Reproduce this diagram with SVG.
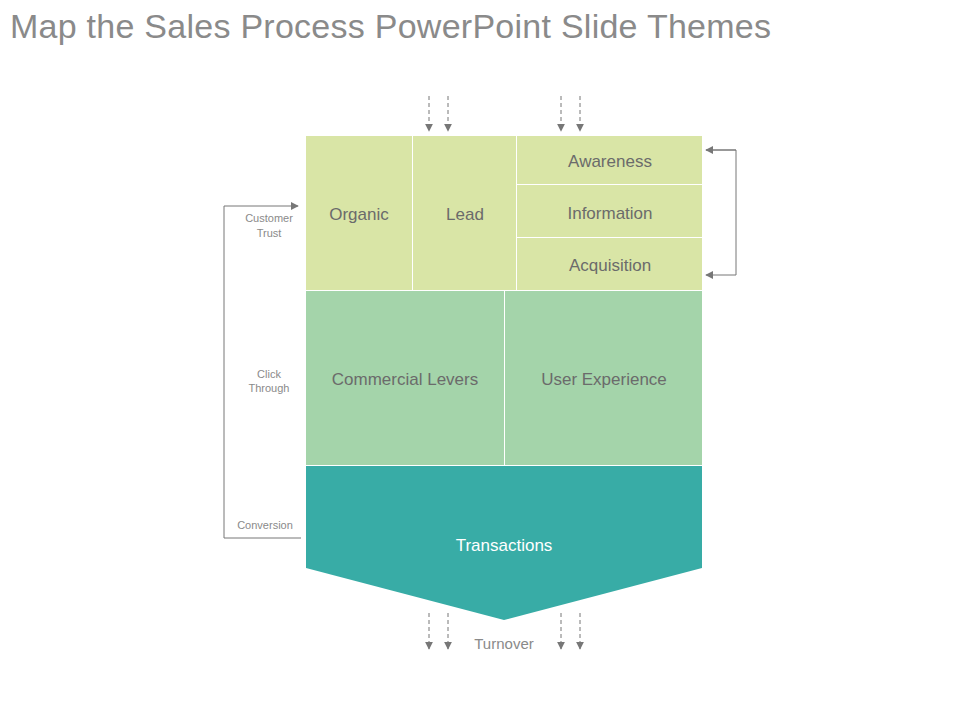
<svg xmlns="http://www.w3.org/2000/svg" width="960" height="720" viewBox="0 0 960 720">
<style>
text{font-family:"Liberation Sans",Arial,sans-serif}
.lbl{font-size:17px;fill:#6b6b6b;text-anchor:middle}
.sm{font-size:11px;fill:#8a8a8a;text-anchor:middle}
.dash{stroke:#777;stroke-width:1;stroke-dasharray:4,3;fill:none}
.ln{stroke:#777;stroke-width:1;fill:none}
</style>
<defs>
<marker id="ah" viewBox="0 0 10 10" refX="9" refY="5" markerWidth="8" markerHeight="8" markerUnits="userSpaceOnUse" orient="auto"><path d="M0,0L10,5L0,10z" fill="#777"/></marker>
</defs>
<rect width="960" height="720" fill="#fff"/>
<text x="10" y="38" textLength="761" style="font-size:34px;fill:#8a8a8a">Map the Sales Process PowerPoint Slide Themes</text>
<g id="organic"><rect x="306" y="136" width="106" height="154" fill="#d9e5a6"/><text class="lbl" x="359" y="220">Organic</text></g>
<g id="lead"><rect x="413" y="136" width="103" height="154" fill="#d9e5a6"/><text class="lbl" x="465" y="220">Lead</text></g>
<g id="awareness"><rect x="517" y="136" width="185" height="48" fill="#d9e5a6"/><text class="lbl" x="610" y="167">Awareness</text></g>
<g id="information"><rect x="517" y="185" width="185" height="52" fill="#d9e5a6"/><text class="lbl" x="610" y="219">Information</text></g>
<g id="acquisition"><rect x="517" y="238" width="185" height="52" fill="#d9e5a6"/><text class="lbl" x="610" y="271">Acquisition</text></g>
<g id="commercial"><rect x="306" y="291" width="198" height="174" fill="#a4d4aa"/><text class="lbl" x="405" y="385">Commercial Levers</text></g>
<g id="ux"><rect x="505" y="291" width="197" height="174" fill="#a4d4aa"/><text class="lbl" x="604" y="385">User Experience</text></g>
<g id="transactions"><path d="M306,466H702V568L504,620L306,568z" fill="#38aca6"/><text x="504" y="551" style="font-size:17px;fill:#fff;text-anchor:middle">Transactions</text></g>
<g id="labels">
<text class="sm" x="269" y="222">Customer</text><text class="sm" x="269" y="237">Trust</text>
<text class="sm" x="269" y="378">Click</text><text class="sm" x="269" y="392">Through</text>
<text class="sm" x="265" y="529">Conversion</text>
<text x="504" y="649" style="font-size:15px;fill:#8a8a8a;text-anchor:middle">Turnover</text>
</g>
<g id="connectors">
<path class="dash" d="M429,96V131" marker-end="url(#ah)"/>
<path class="dash" d="M448,96V131" marker-end="url(#ah)"/>
<path class="dash" d="M561,96V131" marker-end="url(#ah)"/>
<path class="dash" d="M580,96V131" marker-end="url(#ah)"/>
<path class="dash" d="M429,613V649" marker-end="url(#ah)"/>
<path class="dash" d="M448,613V649" marker-end="url(#ah)"/>
<path class="dash" d="M561,613V649" marker-end="url(#ah)"/>
<path class="dash" d="M580,613V649" marker-end="url(#ah)"/>
<path class="ln" d="M706,150H736V275H706" marker-start="url(#ah)" marker-end="url(#ah)" style="marker-start:none"/>
<path class="ln" d="M736,150H706" marker-end="url(#ah)"/>
<path class="ln" d="M301,538H224V206H298" marker-end="url(#ah)"/>
</g>
</svg>
